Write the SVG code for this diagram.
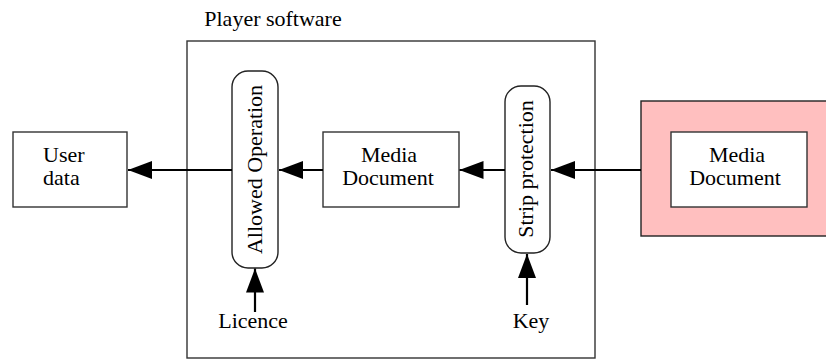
<svg xmlns="http://www.w3.org/2000/svg" width="826" height="359" viewBox="0 0 826 359">
  <style>
    text { font-family: "Liberation Serif", "Times New Roman", serif; font-size: 22px; fill: #000; }
    .box { fill: #fff; stroke: #333; stroke-width: 1.4; }
    .pill { fill: #fff; stroke: #222; stroke-width: 1.4; }
    .edge { stroke: #000; stroke-width: 2.2; fill: none; marker-end: url(#ah); }
    .mid { text-anchor: middle; }
  </style>
  <defs>
    <marker id="ah" markerUnits="userSpaceOnUse" markerWidth="24" markerHeight="18" refX="24" refY="9" orient="auto">
      <path d="M0,0 L24,9 L0,18 Z" fill="#000"/>
    </marker>
  </defs>
  <rect width="826" height="359" fill="#fff"/>

  <g id="player">
    <rect class="box" x="187" y="41" width="408" height="317"/>
    <text x="273" y="26" class="mid">Player software</text>
  </g>

  <g id="userdata">
    <rect class="box" x="13" y="132" width="114" height="75"/>
    <text x="43" y="162">User</text>
    <text x="43" y="185">data</text>
  </g>

  <g id="allowed">
    <rect class="pill" x="232" y="71" width="46" height="197" rx="16" ry="16"/>
    <text class="mid" transform="translate(261.5,169.5) rotate(-90)">Allowed Operation</text>
  </g>

  <g id="mediadoc">
    <rect class="box" x="323" y="132" width="136" height="75"/>
    <text x="389" y="162" class="mid">Media</text>
    <text x="388" y="185" class="mid">Document</text>
  </g>

  <g id="strip">
    <rect class="pill" x="505" y="86" width="45" height="167" rx="16" ry="16"/>
    <text class="mid" transform="translate(533,169) rotate(-90)">Strip protection</text>
  </g>

  <g id="protected">
    <rect x="641" y="101" width="190" height="135" fill="#ffbfbf" stroke="#222" stroke-width="1.4"/>
    <rect class="box" x="671" y="132" width="136" height="75"/>
    <text x="737" y="162" class="mid">Media</text>
    <text x="735" y="185" class="mid">Document</text>
  </g>

  <g id="licence">
    <text x="253" y="328" class="mid">Licence</text>
  </g>

  <g id="key">
    <text x="531" y="328" class="mid">Key</text>
  </g>

  <g id="connectors">
    <line class="edge" x1="232" y1="170" x2="128" y2="170"/>
    <line class="edge" x1="323" y1="170" x2="279" y2="170"/>
    <line class="edge" x1="505" y1="170" x2="459.5" y2="170"/>
    <line class="edge" x1="641" y1="170" x2="551" y2="170"/>
    <line class="edge" x1="255" y1="312" x2="255" y2="268.5"/>
    <line class="edge" x1="527" y1="305" x2="527" y2="254"/>
  </g>
</svg>
